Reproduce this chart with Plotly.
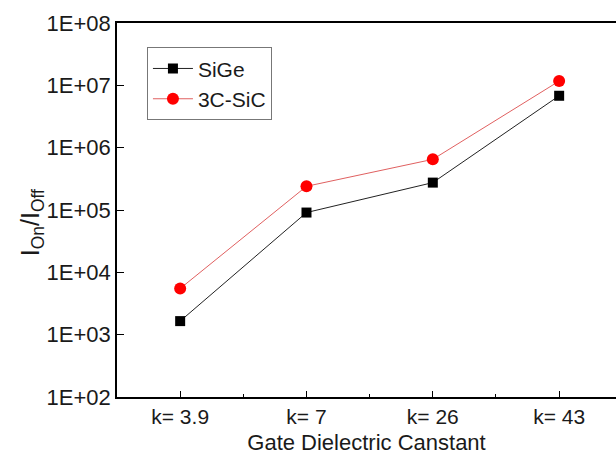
import plotly.graph_objects as go

categories = ["k= 3.9", "k= 7", "k= 26", "k= 43"]
sige = [1.65e3, 9.1e4, 2.75e5, 6.8e6]
sic = [5.5e3, 2.4e5, 6.5e5, 1.17e7]
ytick_vals = [1e2, 1e3, 1e4, 1e5, 1e6, 1e7, 1e8]
ytick_text = ["1E+02", "1E+03", "1E+04", "1E+05", "1E+06", "1E+07", "1E+08"]

xpos = list(range(1, len(categories) + 1))
FONT = "Liberation Sans, Arial, sans-serif"

fig = go.Figure()
fig.add_trace(go.Scatter(
    x=xpos, y=sige, name="SiGe", mode="lines+markers",
    line=dict(color="#222222", width=1),
    marker=dict(symbol="square", size=10, color="black"),
))
fig.add_trace(go.Scatter(
    x=xpos, y=sic, name="3C-SiC", mode="lines+markers",
    line=dict(color="#e06060", width=1),
    marker=dict(symbol="circle", size=12, color="#ff0000"),
))

fig.update_layout(
    width=616, height=463,
    margin=dict(l=117, r=0, t=23, b=66),
    paper_bgcolor="white", plot_bgcolor="white",
    font=dict(family=FONT, size=21, color="#1a1a1a"),
    showlegend=True,
    legend=dict(
        x=0.06, y=0.935, xanchor="left", yanchor="top",
        bordercolor="#777777", borderwidth=1, bgcolor="white",
        font=dict(family=FONT, size=21),
        tracegroupgap=0, itemwidth=40,
    ),
    xaxis=dict(
        range=[0.5, 4.45],
        tickvals=xpos, ticktext=categories,
        ticks="inside", ticklen=6, tickwidth=1, tickcolor="black",
        minor=dict(tickvals=[1.5, 2.5, 3.5, 4.5], ticks="inside", ticklen=3, tickcolor="black"),
        showline=True, linecolor="black", linewidth=1.5, mirror=True,
        showgrid=False, zeroline=False,
        tickfont=dict(size=21),
        title=dict(text="Gate Dielectric Canstant", font=dict(size=22), standoff=8),
    ),
    yaxis=dict(
        type="log", range=[2, 8],
        tickvals=ytick_vals, ticktext=ytick_text,
        ticks="inside", ticklen=7, tickwidth=1, tickcolor="black",
        showline=True, linecolor="black", linewidth=1.5, mirror=False,
        showgrid=False, zeroline=False,
        tickfont=dict(size=22),
    ),
    annotations=[dict(
        text="I<sub>On</sub>/I<sub>Off</sub>", xref="paper", yref="paper",
        x=-0.17, y=0.465, xanchor="center", yanchor="middle",
        textangle=-90, showarrow=False, font=dict(size=25),
    )],
)

fig.write_html("out.html")
